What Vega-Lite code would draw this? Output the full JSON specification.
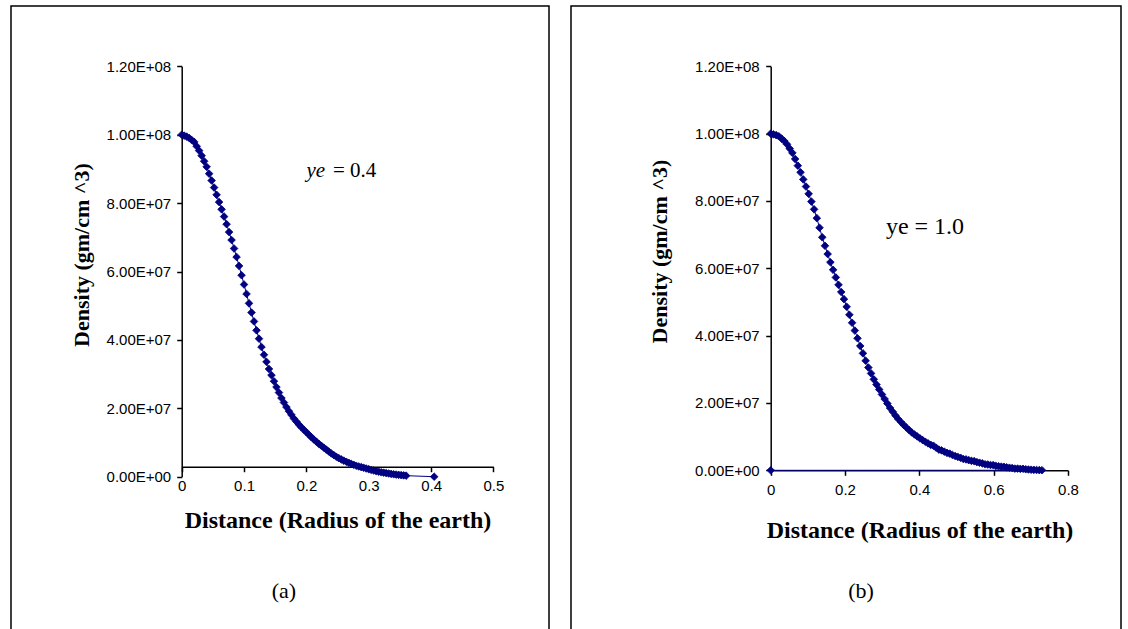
{
  "$schema": "https://vega.github.io/schema/vega-lite/v6.json",
  "padding": {"left": 10, "top": 5, "right": 0, "bottom": 0},
  "autosize": {"type": "pad"},
  "spacing": 20,
  "background": "white",
  "config": {
    "view": {"stroke": "black", "strokeWidth": 1.5},
    "axis": {
      "labelFont": "Liberation Sans", "labelFontSize": 15, "labelColor": "black",
      "domainColor": "black", "tickColor": "black", "domainWidth": 1.5, "tickWidth": 1.5, "tickSize": 5,
      "titleFont": "Liberation Serif", "titleFontSize": 22, "titleFontWeight": "bold", "titleColor": "black",
      "grid": false, "labelFlush": false, "labelOverlap": false
    },
    "axisX": {"titleFontSize": 24}
  },
  "datasets": {
    "a": [
      {"r": 0, "rho": 1e8}, {"r": 0.004, "rho": 9.972e7}, {"r": 0.008, "rho": 9.944e7}, {"r": 0.012, "rho": 9.902e7},
      {"r": 0.016, "rho": 9.846e7}, {"r": 0.02, "rho": 9.79e7}, {"r": 0.024, "rho": 9.662e7}, {"r": 0.028, "rho": 9.534e7},
      {"r": 0.032, "rho": 9.388e7}, {"r": 0.036, "rho": 9.224e7}, {"r": 0.04, "rho": 9.06e7}, {"r": 0.044, "rho": 8.86e7},
      {"r": 0.048, "rho": 8.66e7}, {"r": 0.052, "rho": 8.454e7}, {"r": 0.056, "rho": 8.242e7}, {"r": 0.06, "rho": 8.03e7},
      {"r": 0.064, "rho": 7.818e7}, {"r": 0.068, "rho": 7.606e7}, {"r": 0.072, "rho": 7.384e7}, {"r": 0.076, "rho": 7.152e7},
      {"r": 0.08, "rho": 6.92e7}, {"r": 0.084, "rho": 6.672e7}, {"r": 0.088, "rho": 6.424e7}, {"r": 0.092, "rho": 6.164e7},
      {"r": 0.096, "rho": 5.892e7}, {"r": 0.1, "rho": 5.62e7}, {"r": 0.104, "rho": 5.344e7}, {"r": 0.108, "rho": 5.068e7},
      {"r": 0.112, "rho": 4.8e7}, {"r": 0.116, "rho": 4.54e7}, {"r": 0.12, "rho": 4.28e7}, {"r": 0.124, "rho": 4.036e7},
      {"r": 0.128, "rho": 3.792e7}, {"r": 0.132, "rho": 3.566e7}, {"r": 0.136, "rho": 3.358e7}, {"r": 0.14, "rho": 3.15e7},
      {"r": 0.144, "rho": 2.97e7}, {"r": 0.148, "rho": 2.79e7}, {"r": 0.152, "rho": 2.62e7}, {"r": 0.156, "rho": 2.46e7},
      {"r": 0.16, "rho": 2.3e7}, {"r": 0.164, "rho": 2.168e7}, {"r": 0.168, "rho": 2.036e7}, {"r": 0.172, "rho": 1.916e7},
      {"r": 0.176, "rho": 1.808e7}, {"r": 0.18, "rho": 1.7e7}, {"r": 0.184, "rho": 1.612e7}, {"r": 0.188, "rho": 1.524e7},
      {"r": 0.192, "rho": 1.444e7}, {"r": 0.196, "rho": 1.372e7}, {"r": 0.2, "rho": 1.3e7}, {"r": 0.204, "rho": 1.228e7},
      {"r": 0.208, "rho": 1.156e7}, {"r": 0.212, "rho": 1.088e7}, {"r": 0.216, "rho": 1.024e7}, {"r": 0.22, "rho": 9.6e6},
      {"r": 0.224, "rho": 9.04e6}, {"r": 0.228, "rho": 8.48e6}, {"r": 0.232, "rho": 7.92e6}, {"r": 0.236, "rho": 7.36e6},
      {"r": 0.24, "rho": 6.8e6}, {"r": 0.244, "rho": 6.32e6}, {"r": 0.248, "rho": 5.84e6}, {"r": 0.252, "rho": 5.42e6},
      {"r": 0.256, "rho": 5.06e6}, {"r": 0.26, "rho": 4.7e6}, {"r": 0.264, "rho": 4.38e6}, {"r": 0.268, "rho": 4.06e6},
      {"r": 0.272, "rho": 3.76e6}, {"r": 0.276, "rho": 3.48e6}, {"r": 0.28, "rho": 3.2e6}, {"r": 0.284, "rho": 3.0e6},
      {"r": 0.288, "rho": 2.8e6}, {"r": 0.292, "rho": 2.6e6}, {"r": 0.296, "rho": 2.4e6}, {"r": 0.3, "rho": 2.2e6},
      {"r": 0.304, "rho": 2.0e6}, {"r": 0.308, "rho": 1.8e6}, {"r": 0.312, "rho": 1.62e6}, {"r": 0.316, "rho": 1.46e6},
      {"r": 0.32, "rho": 1.3e6}, {"r": 0.324, "rho": 1.18e6}, {"r": 0.328, "rho": 1.06e6}, {"r": 0.332, "rho": 9.4e5},
      {"r": 0.336, "rho": 8.2e5}, {"r": 0.34, "rho": 7.0e5}, {"r": 0.344, "rho": 6.2e5}, {"r": 0.348, "rho": 5.4e5},
      {"r": 0.352, "rho": 4.6e5}, {"r": 0.356, "rho": 3.8e5}, {"r": 0.36, "rho": 3.0e5}, {"r": 0.405, "rho": 0}
    ],
    "b": [
      {"r": 0, "rho": 1e8}, {"r": 0.0073, "rho": 9.978e7}, {"r": 0.0146, "rho": 9.956e7}, {"r": 0.0219, "rho": 9.922e7},
      {"r": 0.0292, "rho": 9.853e7}, {"r": 0.0365, "rho": 9.783e7}, {"r": 0.0438, "rho": 9.683e7}, {"r": 0.0511, "rho": 9.556e7},
      {"r": 0.0584, "rho": 9.428e7}, {"r": 0.0657, "rho": 9.246e7}, {"r": 0.073, "rho": 9.049e7}, {"r": 0.0803, "rho": 8.851e7},
      {"r": 0.0876, "rho": 8.64e7}, {"r": 0.0949, "rho": 8.428e7}, {"r": 0.1022, "rho": 8.211e7}, {"r": 0.1095, "rho": 7.981e7},
      {"r": 0.1168, "rho": 7.751e7}, {"r": 0.1241, "rho": 7.49e7}, {"r": 0.1314, "rho": 7.205e7}, {"r": 0.1387, "rho": 6.921e7},
      {"r": 0.146, "rho": 6.669e7}, {"r": 0.1533, "rho": 6.424e7}, {"r": 0.1606, "rho": 6.181e7}, {"r": 0.1679, "rho": 5.955e7},
      {"r": 0.1752, "rho": 5.729e7}, {"r": 0.1825, "rho": 5.508e7}, {"r": 0.1898, "rho": 5.296e7}, {"r": 0.1971, "rho": 5.084e7},
      {"r": 0.2044, "rho": 4.857e7}, {"r": 0.2117, "rho": 4.62e7}, {"r": 0.219, "rho": 4.383e7}, {"r": 0.2263, "rho": 4.152e7},
      {"r": 0.2336, "rho": 3.922e7}, {"r": 0.2409, "rho": 3.693e7}, {"r": 0.2482, "rho": 3.474e7}, {"r": 0.2555, "rho": 3.255e7},
      {"r": 0.2628, "rho": 3.053e7}, {"r": 0.2701, "rho": 2.878e7}, {"r": 0.2774, "rho": 2.702e7}, {"r": 0.2847, "rho": 2.546e7},
      {"r": 0.292, "rho": 2.4e7}, {"r": 0.2993, "rho": 2.254e7}, {"r": 0.3066, "rho": 2.118e7}, {"r": 0.3139, "rho": 1.983e7},
      {"r": 0.3212, "rho": 1.851e7}, {"r": 0.3285, "rho": 1.738e7}, {"r": 0.3358, "rho": 1.625e7}, {"r": 0.3431, "rho": 1.523e7},
      {"r": 0.3504, "rho": 1.435e7}, {"r": 0.3577, "rho": 1.348e7}, {"r": 0.365, "rho": 1.27e7}, {"r": 0.3723, "rho": 1.197e7},
      {"r": 0.3796, "rho": 1.124e7}, {"r": 0.3869, "rho": 1.065e7}, {"r": 0.3942, "rho": 1.006e7}, {"r": 0.4015, "rho": 9.5e6},
      {"r": 0.4088, "rho": 8.98e6}, {"r": 0.4161, "rho": 8.47e6}, {"r": 0.4234, "rho": 8.0e6}, {"r": 0.4307, "rho": 7.56e6},
      {"r": 0.438, "rho": 7.3e6}, {"r": 0.4453, "rho": 6.71e6}, {"r": 0.4526, "rho": 6.15e6}, {"r": 0.4599, "rho": 5.91e6},
      {"r": 0.4672, "rho": 5.54e6}, {"r": 0.4745, "rho": 5.18e6}, {"r": 0.4818, "rho": 4.95e6}, {"r": 0.4891, "rho": 4.54e6},
      {"r": 0.4964, "rho": 4.24e6}, {"r": 0.5037, "rho": 3.97e6}, {"r": 0.511, "rho": 3.72e6}, {"r": 0.5183, "rho": 3.35e6},
      {"r": 0.5256, "rho": 3.23e6}, {"r": 0.5329, "rho": 3.01e6}, {"r": 0.5402, "rho": 2.8e6}, {"r": 0.5475, "rho": 2.72e6},
      {"r": 0.5548, "rho": 2.43e6}, {"r": 0.5621, "rho": 2.25e6}, {"r": 0.5694, "rho": 2.065e6}, {"r": 0.5767, "rho": 1.78e6},
      {"r": 0.584, "rho": 1.72e6}, {"r": 0.5913, "rho": 1.57e6}, {"r": 0.5986, "rho": 1.55e6}, {"r": 0.6059, "rho": 1.31e6},
      {"r": 0.6132, "rho": 1.2e6}, {"r": 0.6205, "rho": 1.09e6}, {"r": 0.6278, "rho": 1.05e6}, {"r": 0.6351, "rho": 8.7e5},
      {"r": 0.6424, "rho": 7.7e5}, {"r": 0.6497, "rho": 6.8e5}, {"r": 0.657, "rho": 5.0e5}, {"r": 0.6643, "rho": 5.1e5},
      {"r": 0.6716, "rho": 4.3e5}, {"r": 0.6789, "rho": 4.5e5}, {"r": 0.6862, "rho": 3.0e5}, {"r": 0.6935, "rho": 2.35e5},
      {"r": 0.7008, "rho": 1.8e5}, {"r": 0.7081, "rho": 1.3e5}, {"r": 0.7154, "rho": 9e4}, {"r": 0.7227, "rho": 5e4},
      {"r": 0.73, "rho": 2e4}, {"r": 0, "rho": 0}
    ]
  },
  "hconcat": [
    {
      "width": 538,
      "height": 630,
      "layer": [
        {
          "data": {"name": "a"},
          "mark": {"type": "line", "color": "#000080", "strokeWidth": 1, "clip": false},
          "encoding": {
            "x": {"field": "r", "type": "quantitative",
              "scale": {"domain": [0, 0.5], "range": [170.7, 482.4], "nice": false, "zero": false},
              "axis": {"title": "Distance (Radius of the earth)", "values": [0, 0.1, 0.2, 0.3, 0.4, 0.5], "format": "~g",
                "offset": -169.3, "titleX": 326.5, "titleY": 54, "titleBaseline": "middle", "labelPadding": 7}},
            "y": {"field": "rho", "type": "quantitative",
              "scale": {"domain": [0, 1.2e8], "range": [470.7, 60.3], "nice": false},
              "axis": {"title": "Density (gm/cm ^3)", "values": [0, 2e7, 4e7, 6e7, 8e7, 1e8, 1.2e8],
                "labelExpr": "replace(upper(format(datum.value, '.2e')), regexp('E[+]([0-9])$'), 'E+0$1')",
                "offset": -170.7, "titleX": -100.7, "titleY": 248.5, "titleBaseline": "middle", "labelPadding": 6}},
            "order": {"value": null}
          }
        },
        {
          "data": {"name": "a"},
          "mark": {"type": "point", "shape": "diamond", "filled": true, "size": 58, "color": "#000080", "stroke": "#000080", "strokeWidth": 0.8, "opacity": 1, "clip": false},
          "encoding": {
            "x": {"field": "r", "type": "quantitative"},
            "y": {"field": "rho", "type": "quantitative"}
          }
        },
        {
          "data": {"values": [{"t": "ye"}]},
          "mark": {"type": "text", "font": "Liberation Serif", "fontStyle": "italic", "fontSize": 21, "align": "left", "baseline": "middle", "color": "black"},
          "encoding": {"x": {"datum": 0.2}, "y": {"datum": 8.94e7}, "text": {"field": "t"}}
        },
        {
          "data": {"values": [{"t": "= 0.4"}]},
          "mark": {"type": "text", "font": "Liberation Serif", "fontSize": 21, "align": "left", "baseline": "middle", "color": "black"},
          "encoding": {"x": {"datum": 0.2426}, "y": {"datum": 8.94e7}, "text": {"field": "t"}}
        },
        {
          "data": {"values": [{"t": "(a)"}]},
          "mark": {"type": "text", "font": "Liberation Serif", "fontSize": 22, "align": "center", "baseline": "middle", "color": "black"},
          "encoding": {"x": {"datum": 0.164}, "y": {"datum": -3.34e7}, "text": {"field": "t"}}
        }
      ]
    },
    {
      "width": 550,
      "height": 630,
      "layer": [
        {
          "data": {"name": "b"},
          "mark": {"type": "line", "color": "#000080", "strokeWidth": 1, "clip": false},
          "encoding": {
            "x": {"field": "r", "type": "quantitative",
              "scale": {"domain": [0, 0.8], "range": [199.7, 497], "nice": false, "zero": false},
              "axis": {"title": "Distance (Radius of the earth)", "values": [0, 0.2, 0.4, 0.6, 0.8], "format": "~g",
                "offset": -165.7, "titleX": 348.5, "titleY": 60, "titleBaseline": "middle", "labelPadding": 7}},
            "y": {"field": "rho", "type": "quantitative",
              "scale": {"domain": [0, 1.2e8], "range": [464.3, 60.3], "nice": false},
              "axis": {"title": "Density (gm/cm ^3)", "values": [0, 2e7, 4e7, 6e7, 8e7, 1e8, 1.2e8],
                "labelExpr": "replace(upper(format(datum.value, '.2e')), regexp('E[+]([0-9])$'), 'E+0$1')",
                "offset": -199.7, "titleX": -111, "titleY": 245, "titleBaseline": "middle", "labelPadding": 6.5}},
            "order": {"value": null}
          }
        },
        {
          "data": {"name": "b"},
          "mark": {"type": "point", "shape": "diamond", "filled": true, "size": 58, "color": "#000080", "stroke": "#000080", "strokeWidth": 0.8, "opacity": 1, "clip": false},
          "encoding": {
            "x": {"field": "r", "type": "quantitative"},
            "y": {"field": "rho", "type": "quantitative"}
          }
        },
        {
          "data": {"values": [{"t": "ye = 1.0"}]},
          "mark": {"type": "text", "font": "Liberation Serif", "fontSize": 24, "align": "left", "baseline": "middle", "color": "black"},
          "encoding": {"x": {"datum": 0.31}, "y": {"datum": 7.23e7}, "text": {"field": "t"}}
        },
        {
          "data": {"values": [{"t": "(b)"}]},
          "mark": {"type": "text", "font": "Liberation Serif", "fontSize": 22, "align": "center", "baseline": "middle", "color": "black"},
          "encoding": {"x": {"datum": 0.243}, "y": {"datum": -3.58e7}, "text": {"field": "t"}}
        }
      ]
    }
  ]
}
